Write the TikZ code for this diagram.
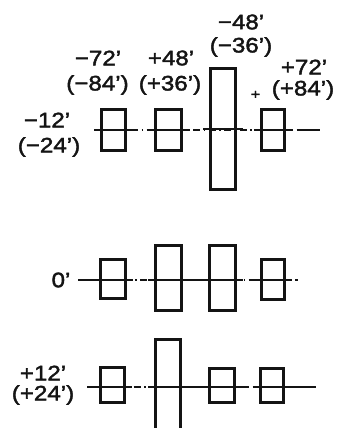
\documentclass[tikz,border=0pt]{standalone}
\usepackage{fontspec}
\setmainfont{Liberation Sans}
\newfontfamily\labelfont[FakeBold=2,FakeStretch=1.15]{Liberation Sans}
\usepackage{tikz}
\usetikzlibrary{positioning,calc}
\definecolor{ink}{RGB}{20,20,20}
\tikzset{
  gear/.style={draw=ink,line width=3pt,inner sep=0pt,minimum width=24pt},
  lbl/.style={font=\labelfont\fontsize{21}{23}\selectfont,text=ink,inner sep=0pt,align=center},
  shaft/.style={ink,line width=1.1pt,dash pattern=on 7pt off 3.5pt on 1.5pt off 3.5pt},
  hub/.style={ink,line width=1.2pt},
}
\begin{document}
\begin{tikzpicture}[x=1pt,y=-1pt]
  \useasboundingbox (0,0) rectangle (341,428);
  \clip (0,0) rectangle (341,428);
  % first set
  \node[gear,minimum height=41pt] (t1) at (113.5,130) {};
  \node[gear,minimum width=26pt,minimum height=41pt] (t2) at (168.5,130) {};
  \node[gear,minimum width=25pt,minimum height=121pt] (t3) at (223,129) {};
  \node[gear,minimum width=23pt,minimum height=41pt] (t4) at (273,130) {};
  \coordinate (tL) at (100,130);
  \coordinate (tR) at (320,130);
  \draw[shaft] (tL) -- (tR);
  \foreach \g in {t1,t2,t3,t4}
    \draw[hub] ([xshift=-6pt]\g.west) -- ([xshift=6pt]\g.east);
  \draw[hub] ([xshift=-23pt]tR) -- (tR);
  \node[lbl] (t0a) at (47,120) {−12’};
  \node[lbl] (t0b) at (49,147) {(−24’)};
  \node[lbl] (t1a) at (98,58) {−72’};
  \node[lbl] (t1b) at (97.5,85) {(−84’)};
  \node[lbl] (t2a) at (171,58) {+48’};
  \node[lbl] (t2b) at (170,85) {(+36’)};
  \node[lbl] (t3a) at (241,22) {−48’};
  \node[lbl] (t3b) at (241,47) {(−36’)};
  \node[lbl] (t4a) at (304,67) {+72’};
  \node[lbl] (t4b) at (303,90) {(+84’)};
  \node[lbl,font=\labelfont\fontsize{14}{14}\selectfont] (tick) at (255.5,95) {+};
  % second set
  \node[gear,minimum width=25pt,minimum height=39pt] (m1) at (113,279) {};
  \node[gear,minimum width=26pt,minimum height=65pt] (m2) at (168.5,278) {};
  \node[gear,minimum width=26pt,minimum height=65pt] (m3) at (222.5,278) {};
  \node[gear,minimum width=23pt,minimum height=40pt] (m4) at (273,279.5) {};
  \coordinate (mL) at (78,280);
  \coordinate (mR) at (298,280);
  \draw[shaft] (mL) -- (mR);
  \foreach \g in {m1,m2,m3,m4}
    \draw[hub] ([xshift=-6pt]\g.west|-mL) -- ([xshift=6pt]\g.east|-mL);
  \draw[hub] (mL) -- (m1.west|-mL);
  \draw[hub] (m2.east|-mL) -- (m3.west|-mL);
  \node[lbl] (m0) at (61,280) {0’};
  % third set
  \node[gear,minimum height=35pt] (b1) at (112.5,385) {};
  \node[gear,minimum width=25pt,minimum height=130pt] (b2) at (168,404) {};
  \node[gear,minimum width=25pt,minimum height=34pt] (b3) at (222,385.5) {};
  \node[gear,minimum width=23pt,minimum height=34pt] (b4) at (272,385.5) {};
  \coordinate (bL) at (87,387);
  \coordinate (bR) at (315,387);
  \draw[shaft] (bL) -- (bR);
  \foreach \g in {b1,b2,b3,b4}
    \draw[hub] ([xshift=-6pt]\g.west|-bL) -- ([xshift=6pt]\g.east|-bL);
  \draw[hub] (bL) -- (b1.west|-bL);
  \draw[hub] (b2.east|-bL) -- (b3.west|-bL);
  \draw[hub] (b4.east|-bL) -- (bR);
  \node[lbl] (b0a) at (43,373) {+12’};
  \node[lbl] (b0b) at (43,395) {(+24’)};
\end{tikzpicture}
\end{document}
